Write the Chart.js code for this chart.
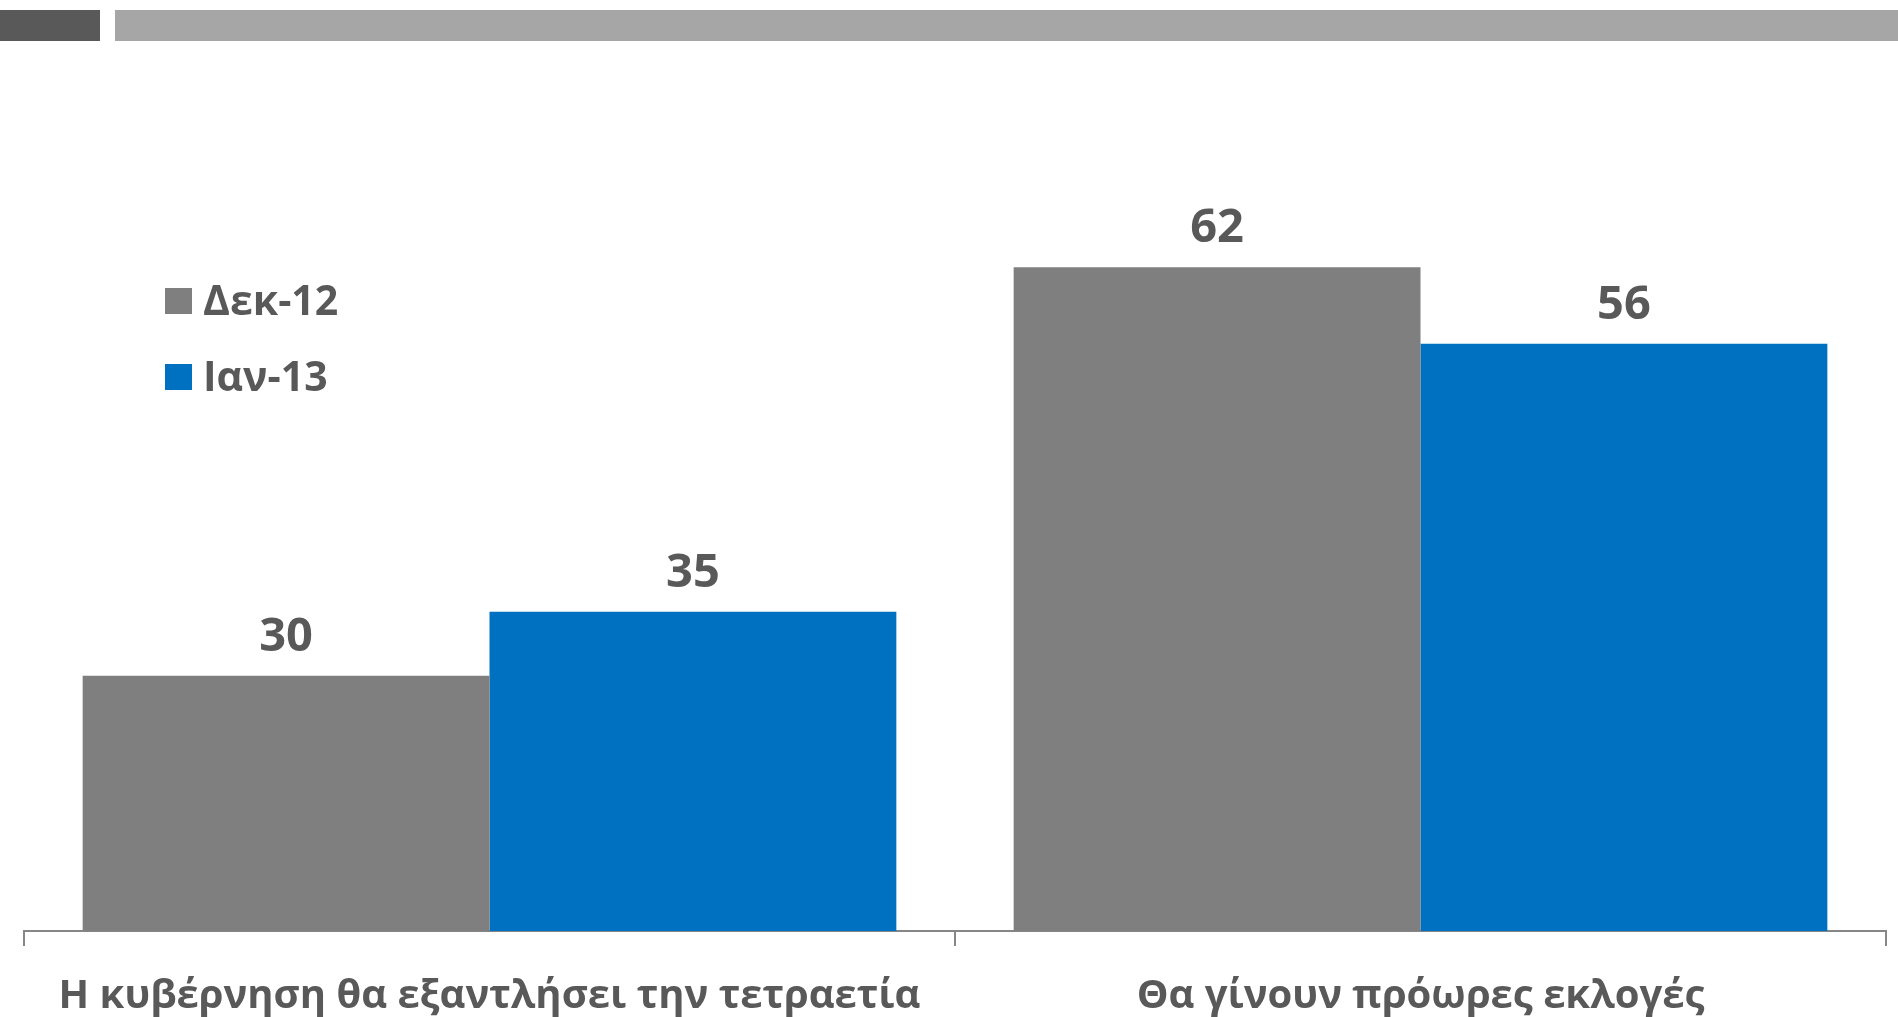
<!DOCTYPE html>
<html>
<head>
<meta charset="utf-8">
<script src="https://cdn.jsdelivr.net/npm/chart.js@4.4.1/dist/chart.umd.min.js"></script>
<style>
  body { margin: 0; background: #fff; }
  #wrap { position: relative; width: 1898px; height: 1017px; overflow: hidden; }
  .strip-dark { position: absolute; left: 0; top: 10px; width: 100px; height: 31px; background: #595959; }
  .strip-light { position: absolute; left: 115px; top: 10px; right: 0; height: 31px; background: #a6a6a6; }
  canvas { position: absolute; left: 0; top: 0; }
</style>
</head>
<body>
<div id="wrap">
  <div class="strip-dark"></div>
  <div class="strip-light"></div>
  <canvas id="myChart" width="1898" height="1017"></canvas>
</div>
<script>
const categories = ["Η κυβέρνηση θα εξαντλήσει την τετραετία", "Θα γίνουν πρόωρες εκλογές"];
const seriesNames = ["Δεκ-12", "Ιαν-13"];
const dec12 = [30, 62];
const jan13 = [35, 56];
const seriesColors = ["#7f7f7f", "#0070c0"];

const textColor = "#595959";
const fontFamily = "'Open Sans', 'Noto Sans', sans-serif";

// numbers above the bars
const valueLabels = {
  id: "valueLabels",
  afterDatasetsDraw(chart) {
    const ctx = chart.ctx;
    ctx.save();
    ctx.font = "bold 47px " + fontFamily;
    ctx.fillStyle = textColor;
    ctx.textAlign = "center";
    ctx.textBaseline = "alphabetic";
    chart.data.datasets.forEach((ds, i) => {
      chart.getDatasetMeta(i).data.forEach((bar, j) => {
        ctx.fillText(ds.data[j], bar.x, bar.y - 25);
      });
    });
    ctx.restore();
  }
};

// legend sits inside the plot, top left
const boxLegend = {
  id: "boxLegend",
  afterDraw(chart) {
    const ctx = chart.ctx;
    ctx.save();
    ctx.font = "bold 41px " + fontFamily;
    ctx.textAlign = "left";
    ctx.textBaseline = "alphabetic";
    chart.data.datasets.forEach((ds, i) => {
      const y = 288 + i * 76;
      ctx.fillStyle = ds.backgroundColor;
      ctx.fillRect(165, y, 27, 26);
      ctx.fillStyle = textColor;
      ctx.fillText(ds.label, 203, y + 27);
    });
    ctx.restore();
  }
};

const data = {
  labels: categories,
  datasets: [
    {
      label: seriesNames[0],
      data: dec12,
      backgroundColor: seriesColors[0],
    },
    {
      label: seriesNames[1],
      data: jan13,
      backgroundColor: seriesColors[1],
    },
  ],
};

const config = {
  type: "bar",
  data: data,
  options: {
    responsive: false,
    animation: false,
    datasets: {
      bar: {
        categoryPercentage: 0.874,
        barPercentage: 1,
        borderWidth: 0,
      },
    },
    layout: {
      padding: { top: 165, left: 24, right: 12, bottom: -31 },
    },
    scales: {
      x: {
        border: { display: true, color: "#868686", width: 2 },
        grid: {
          display: true,
          drawOnChartArea: false,
          drawTicks: true,
          tickLength: 15,
          color: "#868686",
          lineWidth: 2,
        },
        ticks: {
          color: textColor,
          padding: 27,
          maxRotation: 0,
          font: { family: fontFamily, size: 40, weight: "bold", lineHeight: 1.2 },
        },
      },
      y: {
        display: false,
        min: 10,
        max: 70,
      },
    },
    plugins: {
      legend: { display: false },
      tooltip: { enabled: false },
      title: { display: false },
    },
  },
  plugins: [valueLabels, boxLegend],
};

const myChart = new Chart(document.getElementById("myChart"), config);
</script>
</body>
</html>
